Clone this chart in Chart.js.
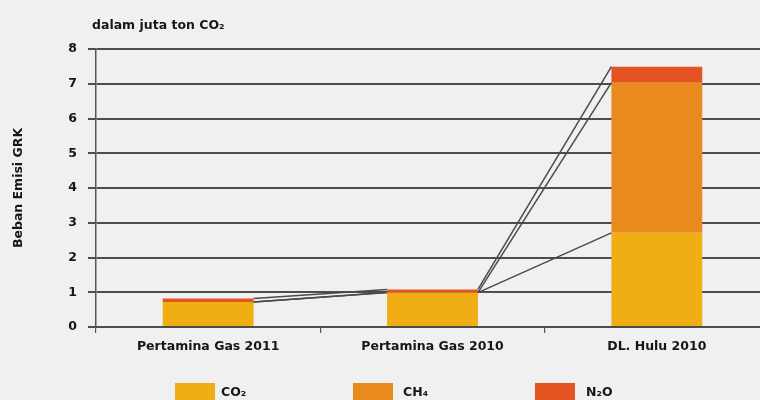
<!DOCTYPE html>
<html>
<head>
<meta charset="utf-8">
<script src="https://cdn.jsdelivr.net/npm/chart.js@4/dist/chart.umd.min.js"></script>
<style>
  html, body { margin: 0; padding: 0; background: #f0f0f0; overflow: hidden; width: 760px; height: 400px; }
  canvas { display: block; }
</style>
</head>
<body>
<canvas id="c" width="770" height="400"></canvas>
<script>
// ---- data ----
const categories = ['Pertamina Gas 2011', 'Pertamina Gas 2010', 'DL. Hulu 2010'];
const co2Values = [0.72, 0.99, 2.71];
const ch4Values = [0.00, 0.00, 4.32];
const n2oValues = [0.10, 0.09, 0.46];
const seriesNames = ['CO₂', 'CH₄', 'N₂O'];
const yTickValues = [0, 1, 2, 3, 4, 5, 6, 7, 8];
const titleText = 'dalam juta ton CO₂';
const yAxisTitle = 'Beban Emisi GRK';

// ---- style ----
const colors = ['#f0ad14', '#e88a1e', '#e45423'];
const FONT = '"DejaVu Sans", "Liberation Sans", sans-serif';
const TEXT = '#161616';

const bgPlugin = {
  id: 'bg',
  beforeDraw(chart) {
    const ctx = chart.ctx;
    ctx.save();
    ctx.fillStyle = '#f0f0f0';
    ctx.fillRect(0, 0, chart.width, chart.height);
    ctx.restore();
  }
};

const seriesLines = {
  id: 'seriesLines',
  afterDatasetsDraw(chart) {
    const ctx = chart.ctx;
    ctx.save();
    ctx.strokeStyle = '#4a4a4a';
    ctx.lineWidth = 1.5;
    chart.data.datasets.forEach((ds, d) => {
      const meta = chart.getDatasetMeta(d);
      for (let i = 0; i < meta.data.length - 1; i++) {
        const a = meta.data[i], b = meta.data[i + 1];
        ctx.beginPath();
        ctx.moveTo(a.x + a.width / 2, a.y);
        ctx.lineTo(b.x - b.width / 2, b.y);
        ctx.stroke();
      }
    });
    ctx.restore();
  }
};

const textPlugin = {
  id: 'texts',
  afterDraw(chart) {
    const ctx = chart.ctx;
    ctx.save();
    ctx.fillStyle = TEXT;
    // title
    ctx.font = 'bold 12.5px ' + FONT;
    ctx.textAlign = 'left';
    ctx.textBaseline = 'middle';
    ctx.fillText(titleText, 92, 26);
    // y axis title
    ctx.save();
    ctx.translate(19, (chart.chartArea.top + chart.chartArea.bottom) / 2);
    ctx.rotate(-Math.PI / 2);
    ctx.textAlign = 'center';
    ctx.textBaseline = 'middle';
    ctx.font = 'bold 12.5px ' + FONT;
    ctx.fillText(yAxisTitle, 0, 0);
    ctx.restore();
    // legend
    const boxLeft = [175, 353, 535];
    const textLeft = [221, 403, 586];
    chart.data.datasets.forEach((ds, i) => {
      ctx.fillStyle = ds.backgroundColor;
      ctx.fillRect(boxLeft[i], 383, 40, 20);
      ctx.fillStyle = TEXT;
      ctx.font = 'bold 12.5px ' + FONT;
      ctx.textAlign = 'left';
      ctx.textBaseline = 'middle';
      ctx.fillText(ds.label, textLeft[i], 393);
    });
    ctx.restore();
  }
};

new Chart(document.getElementById('c'), {
  type: 'bar',
  data: {
    labels: categories,
    datasets: [
      { label: seriesNames[0], data: co2Values, backgroundColor: colors[0] },
      { label: seriesNames[1], data: ch4Values, backgroundColor: colors[1] },
      { label: seriesNames[2], data: n2oValues, backgroundColor: colors[2] }
    ]
  },
  options: {
    responsive: false,
    animation: false,
    devicePixelRatio: 1,
    layout: { padding: { top: 49, right: 1, bottom: 0, left: 0 } },
    datasets: { bar: { categoryPercentage: 1, barPercentage: 0.405, borderWidth: 0 } },
    plugins: { legend: { display: false }, tooltip: { enabled: false }, title: { display: false } },
    scales: {
      x: {
        stacked: true,
        grid: { offset: true, drawOnChartArea: false, drawTicks: true, tickLength: 6, color: '#555555', lineWidth: 1.2 },
        border: { display: true, color: '#4d4d4d', width: 2 },
        ticks: { color: TEXT, font: { family: FONT, size: 12.5, weight: 'bold' }, padding: 6, maxRotation: 0, autoSkip: false },
        afterFit(s) { s.height = 73; }
      },
      y: {
        stacked: true,
        min: yTickValues[0],
        max: yTickValues[yTickValues.length - 1],
        afterBuildTicks(s) { s.ticks = yTickValues.map(v => ({ value: v })); },
        grid: { color: '#4d4d4d', lineWidth: 2, tickLength: 8 },
        border: { display: true, color: '#555555', width: 1.5 },
        ticks: { color: TEXT, font: { family: FONT, size: 12.5, weight: 'bold' }, padding: 11 },
        afterFit(s) { s.width = 96; }
      }
    }
  },
  plugins: [bgPlugin, seriesLines, textPlugin]
});
</script>
</body>
</html>
